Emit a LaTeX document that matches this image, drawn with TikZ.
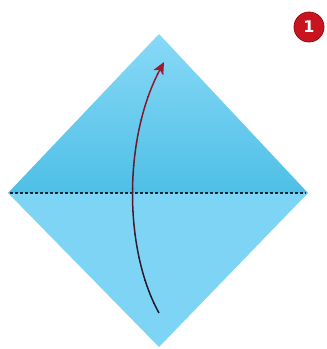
\documentclass[tikz,border=0pt]{standalone}
\usepackage{fontspec}
\newfontfamily\badgefont{DejaVu Sans}
\usetikzlibrary{arrows.meta}
\definecolor{paperTop}{HTML}{88D9F7}
\definecolor{paperMid}{HTML}{4FBFE6}
\definecolor{paperLow}{HTML}{7DD4F4}
\definecolor{foldLine}{HTML}{1B2633}
\definecolor{arrowTop}{HTML}{A0182E}
\definecolor{arrowBot}{HTML}{161A2C}
\definecolor{badgeRed}{HTML}{C8141E}
\tikzset{
  foldline/.style={draw=foldLine, line width=1.1pt, dash pattern=on 3pt off 2pt},
  badge/.style={circle, fill=badgeRed, draw=badgeRed!75!black, line width=0.8pt, inner sep=0pt, minimum size=30pt, text=white,
    font=\badgefont\bfseries\fontsize{16}{16}\selectfont},
}
\begin{document}
\begin{tikzpicture}[x=1pt,y=-1pt]
\useasboundingbox (0,0) rectangle (327,349);
\fill[white] (0,0) rectangle (327,349);
\coordinate (T) at (159,34);
\coordinate (L) at (8,193);
\coordinate (R) at (308,193);
\coordinate (B) at (159,347);
% upper half with gradient
\shade[top color=paperTop, bottom color=paperMid, middle color=paperTop!50!paperMid] (L) -- (T) -- (R) -- cycle;
% lower half
\fill[paperLow] (L) -- (R) -- (B) -- cycle;
% fold line
\draw[foldline] (10,193) coordinate (dl) -- (306,193) coordinate (dr);
% arrow
\coordinate (as) at (159,313);
\coordinate (ae) at (164,62);
\foreach \i in {0,...,11}{
  \pgfmathsetmacro{\p}{100-\i*100/11}
  \begin{scope}
    \clip (0,{50+\i*23}) rectangle (327,{50+(\i+1)*23+0.5});
    \draw[line width=1.5pt, color=arrowTop!\p!arrowBot, -{Stealth[length=12pt,width=11pt,inset=3pt]}]
      (as) .. controls (124,250) and (123,139) .. (ae);
  \end{scope}
}
% badge
\node[badge] (n1) at (309,27) {1};
\end{tikzpicture}
\end{document}
